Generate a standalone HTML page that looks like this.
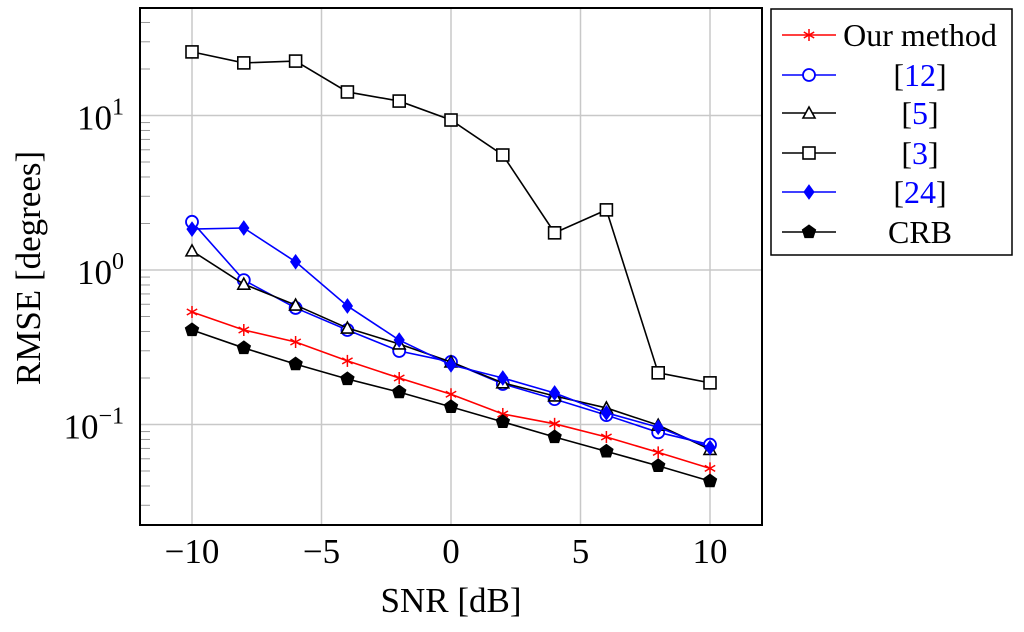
<!DOCTYPE html>
<html><head><meta charset="utf-8"><style>
body{margin:0;background:#fff}
text{font-family:"Liberation Serif",serif}
</style></head><body>
<svg id="chart" width="1024" height="627" xmlns="http://www.w3.org/2000/svg"></svg>
<script>
const snr=[-10,-8,-6,-4,-2,0,2,4,6,8,10];
const ours=[0.535,0.409,0.342,0.258,0.200,0.157,0.117,0.101,0.083,0.066,0.052];
const ref12=[2.05,0.86,0.568,0.409,0.299,0.254,0.183,0.146,0.115,0.089,0.074];
const ref5=[1.33,0.81,0.593,0.421,0.332,0.254,0.186,0.153,0.128,0.099,0.069];
const ref3=[25.8,21.9,22.5,14.2,12.4,9.35,5.55,1.74,2.45,0.216,0.186];
const ref24=[1.84,1.87,1.13,0.585,0.352,0.243,0.200,0.160,0.119,0.096,0.071];
const crb=[0.409,0.313,0.246,0.197,0.162,0.130,0.104,0.083,0.067,0.054,0.043];
const xTicks=[-10,-5,0,5,10];
const xTickLabels=["\u221210","\u22125","0","5","10"];
const yExps=[-1,0,1];

const NS="http://www.w3.org/2000/svg";
const svg=document.getElementById('chart');
const L=140,R=762,T=8,B=525;
const X=v=>192+(v+10)*(710-192)/20;
const Y=v=>270-Math.log10(v)*154.5;
function mk(tag,attrs,parent){const e=document.createElementNS(NS,tag);for(const k in attrs)e.setAttribute(k,attrs[k]);(parent||svg).appendChild(e);return e;}

xTicks.forEach((t,i)=>{
 const g=mk('line',{x1:X(t),x2:X(t),y1:T,y2:B,stroke:'#c8c8c8','stroke-width':1.5});
 
 
 const lb=mk('text',{x:X(t),y:563,'font-size':35,'text-anchor':'middle'});
 lb.textContent=xTickLabels[i];
 
 
});
yExps.forEach(e=>{
 const y=Y(Math.pow(10,e));
 const g=mk('line',{x1:L,x2:R,y1:y,y2:y,stroke:'#c8c8c8','stroke-width':1.5});
 
 
 const lb=mk('text',{x:124,y:y+14,'font-size':35,'text-anchor':'end'});
 
 
 lb.textContent='10';
 const s=mk('tspan',{dy:-15,'font-size':24},lb);s.textContent=(e<0?'\u2212':'')+Math.abs(e);
});
for(let e=-2;e<=1;e++)for(let m=2;m<=9;m++){
 const v=m*Math.pow(10,e);const y=Y(v);
 if(y<T||y>B)continue;
 const t=mk('line',{x1:L,x2:L+10,y1:y,y2:y,stroke:'#999','stroke-width':1});
 
 
}
const frame=mk('rect',{x:L,y:T,width:R-L,height:B-T,fill:'none',stroke:'#000','stroke-width':2});



function marker(type,x,y,color,parent){
 let e;
 if(type==='star'){
  e=mk('g',{stroke:color,'stroke-width':1.5},parent);
  for(let a=0;a<3;a++){const an=a*Math.PI/3+Math.PI/2;mk('line',{x1:x-6*Math.cos(an),y1:y-6*Math.sin(an),x2:x+6*Math.cos(an),y2:y+6*Math.sin(an)},e);}
 }else if(type==='circle') e=mk('circle',{cx:x,cy:y,r:6,fill:'#fff',stroke:color,'stroke-width':1.8},parent);
 else if(type==='tri') e=mk('polygon',{points:`${x},${y-6} ${x-6},${y+5} ${x+6},${y+5}`,fill:'#fff',stroke:color,'stroke-width':1.6},parent);
 else if(type==='square') e=mk('rect',{x:x-6,y:y-6,width:12,height:12,fill:'#fff',stroke:color,'stroke-width':1.6},parent);
 else if(type==='diamond') e=mk('polygon',{points:`${x},${y-7} ${x+5},${y} ${x},${y+7} ${x-5},${y}`,fill:color,stroke:color},parent);
 else {const p=[];for(let i=0;i<5;i++){const a=-Math.PI/2+i*2*Math.PI/5;p.push((x+7*Math.cos(a))+','+(y+7*Math.sin(a)));}
  e=mk('polygon',{points:p.join(' '),fill:color,stroke:color},parent);}
 return e;
}
const series=[
 {name:'ours',data:ours,color:'#ff0000',m:'star',label:'Our method'},
 {name:'ref12',data:ref12,color:'#0000ff',m:'circle',label:'12'},
 {name:'ref5',data:ref5,color:'#000',m:'tri',label:'5'},
 {name:'ref3',data:ref3,color:'#000',m:'square',label:'3'},
 {name:'ref24',data:ref24,color:'#0000ff',m:'diamond',label:'24'},
 {name:'crb',data:crb,color:'#000',m:'pent',label:'CRB'}];
series.forEach(s=>{
 const g=mk('g',{});
 
 
 const pl=mk('polyline',{points:snr.map((v,i)=>X(v)+','+Y(s.data[i])).join(' '),fill:'none',stroke:s.color,'stroke-width':1.6},g);
 
 
 snr.forEach((v,i)=>{const m=marker(s.m,X(v),Y(s.data[i]),s.color,g);
  
  });
});
const lg=mk('g',{});


mk('rect',{x:771,y:9,width:241,height:246,fill:'#fff',stroke:'#000','stroke-width':1.5},lg);
const rowY=[35,75,113,153,192,232];
series.forEach((s,i)=>{
 const y=rowY[i];
 const e=mk('g',{},lg);
 
 
 mk('line',{x1:782,x2:836,y1:y,y2:y,stroke:s.color,'stroke-width':1.6},e);
 marker(s.m,809,y,s.color,e);
 const t=mk('text',{x:920,y:y+11,'font-size':32,'text-anchor':'middle'},e);
 if(s.label==='Our method'||s.label==='CRB')t.textContent=s.label;
 else{t.textContent='[';const sp=mk('tspan',{fill:'#0000ff'},t);sp.textContent=s.label;const c=mk('tspan',{},t);c.textContent=']';}
});
const xt=mk('text',{x:451,y:612,'font-size':35,'text-anchor':'middle'});
xt.textContent='SNR [dB]';


const yt=mk('text',{x:0,y:0,'font-size':35,'text-anchor':'middle',transform:'translate(40,268) rotate(-90)'});
yt.textContent='RMSE [degrees]';


</script>
</body></html>
